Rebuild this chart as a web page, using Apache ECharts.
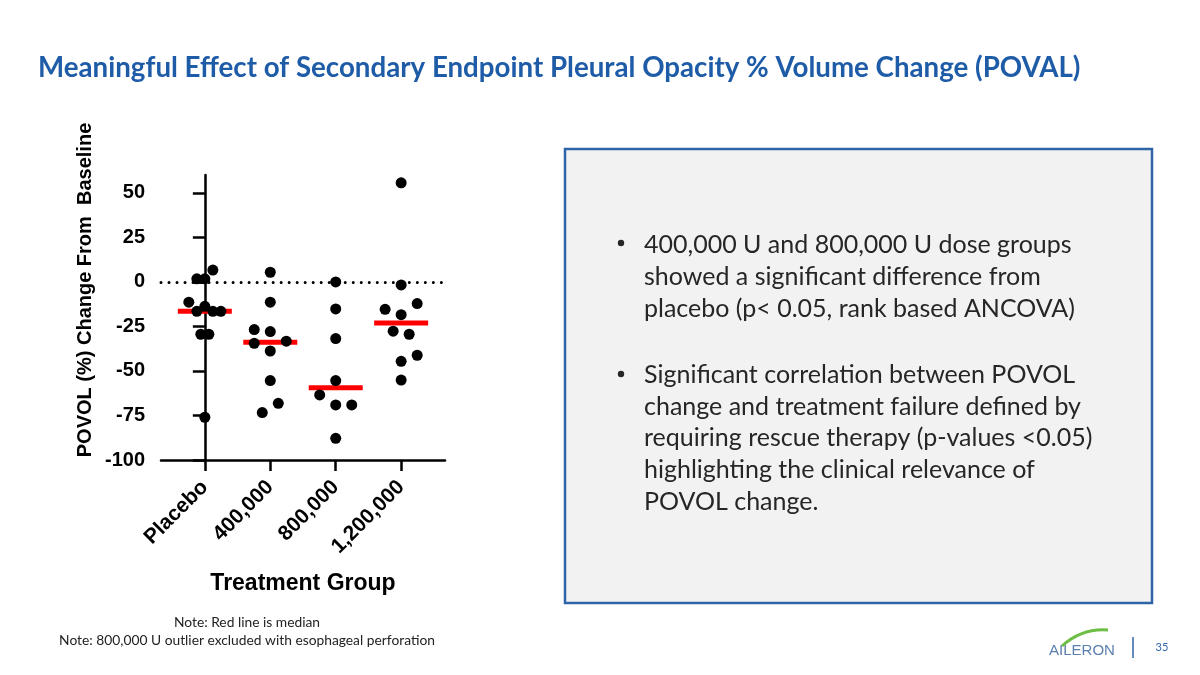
<!DOCTYPE html>
<html>
<head>
<meta charset="utf-8">
<script src="https://cdn.jsdelivr.net/npm/echarts@6/dist/echarts.min.js"></script>
<style>
html,body{margin:0;padding:0;background:#ffffff;}
#chart{width:1200px;height:675px;}
</style>
</head>
<body>
<div id="chart"></div>
<script>
// ---- data ----
const categories = ['Placebo', '400,000', '800,000', '1,200,000'];
const yTicks = [-100, -75, -50, -25, 0, 25, 50];

const placeboValues = [6.6, 1.7, 1.7, -11.4, -16.5, -13.7, -16.5, -16.5, -29.4, -29.4, -76];
const placeboSlots  = [1, -1, 0, -2, -1, 0, 1, 2, -0.5, 0.5, 0];

const dose400Values = [5.4, -11.4, -26.8, -27.9, -34.5, -33.3, -38.8, -55.4, -68.2, -73.4];
const dose400Slots  = [0, 0, -2, 0, -2, 2, 0, 0, 1, -1];

const dose800Values = [0, -15.2, -31.8, -55.4, -63.5, -69.1, -69.1, -87.8];
const dose800Slots  = [0, 0, 0, 0, -2, 0, 2, 0];

const dose1200Values = [55.6, -1.7, -15.4, -12.2, -18.4, -27.7, -29.4, -44.6, -41.2, -55.1];
const dose1200Slots  = [0, 0, -2, 2, 0, -1, 1, 0, 2, 0];

const groupValues = [placeboValues, dose400Values, dose800Values, dose1200Values];
const groupSlots = [placeboSlots, dose400Slots, dose800Slots, dose1200Slots];

// ---- build ----
const SLOT = 0.1225; // horizontal swarm spacing, in category units
const dots = [];
groupValues.forEach((vals, gi) => {
  vals.forEach((v, i) => dots.push([gi + groupSlots[gi][i] * SLOT, v]));
});
function median(arr) {
  const s = arr.slice().sort((a, b) => a - b);
  const m = Math.floor(s.length / 2);
  return s.length % 2 ? s[m] : (s[m - 1] + s[m]) / 2;
}
const medians = groupValues.map((vals, gi) => [gi, median(vals)]);

const chart = echarts.init(document.getElementById('chart'), null, {renderer: 'canvas'});
const bold = 'bold';
const axisFont = 'Liberation Sans';

chart.setOption({
  backgroundColor: '#ffffff',
  animation: false,
  grid: {left: 161, top: 175, width: 284, height: 285, containLabel: false},
  xAxis: {
    type: 'value', min: -0.67, max: 3.67,
    splitLine: {show: false},
    axisLine: {show: true, onZero: false, lineStyle: {color: '#000', width: 2.5}},
    axisTick: {show: true, customValues: [0, 1, 2, 3], length: 11, lineStyle: {color: '#000', width: 2.5}},
    axisLabel: {
      customValues: [0, 1, 2, 3], rotate: 45, margin: 24,
      formatter: v => categories[Math.round(v)],
      color: '#000', fontFamily: axisFont, fontWeight: bold, fontSize: 21
    },
    name: 'Treatment Group', nameLocation: 'middle', nameGap: 112,
    nameTextStyle: {color: '#000', fontFamily: axisFont, fontWeight: bold, fontSize: 23}
  },
  yAxis: {
    type: 'value', min: -100, max: 60,
    splitLine: {show: false},
    axisLine: {show: true, lineStyle: {color: '#000', width: 2.5}},
    axisTick: {show: true, customValues: yTicks, length: 12, lineStyle: {color: '#000', width: 2.5}},
    axisLabel: {
      customValues: yTicks, margin: 16,
      color: '#000', fontFamily: axisFont, fontWeight: bold, fontSize: 20
    }
  },
  series: [
    {
      type: 'scatter', name: 'median', data: medians,
      symbol: 'rect', symbolSize: [54, 5],
      itemStyle: {color: '#ff0000', opacity: 1}, z: 2, silent: true
    },
    {
      type: 'scatter', name: 'values', data: dots,
      symbol: 'circle', symbolSize: 11,
      itemStyle: {color: '#000000', opacity: 1}, z: 3, silent: true,
      markLine: {
        silent: true, symbol: 'none', label: {show: false},
        lineStyle: {color: '#000', width: 3, type: [0.01, 8], cap: 'round', opacity: 1},
        data: [{yAxis: 0}]
      }
    }
  ],
  graphic: [
    {type: 'text', x: 38, y: 68, style: {
      text: 'Meaningful Effect of Secondary Endpoint Pleural Opacity % Volume Change (POVAL)',
      fill: '#1F5CA8', font: 'bold 27.7px Lato', verticalAlign: 'middle'}},
    {type: 'text', x: 85, y: 290, rotation: Math.PI / 2, style: {
      text: 'POVOL (%) Change From  Baseline', fill: '#000',
      font: 'bold 20px "Liberation Sans"', align: 'center', verticalAlign: 'middle'}},
    {type: 'rect', z: -1, shape: {x: 565, y: 149, width: 587, height: 454},
      style: {fill: '#F2F2F2', stroke: '#2F64A8', lineWidth: 2.5}},
    {type: 'circle', shape: {cx: 621, cy: 243, r: 3.2}, style: {fill: '#262626'}},
    {type: 'circle', shape: {cx: 621, cy: 374, r: 3.2}, style: {fill: '#262626'}},
    {type: 'text', x: 644, y: 229, style: {
      text: '400,000 U and 800,000 U dose groups\nshowed a significant difference from\nplacebo (p< 0.05, rank based ANCOVA)',
      fill: '#262626', font: '25px Lato', lineHeight: 32}},
    {type: 'text', x: 644, y: 359, style: {
      text: 'Significant correlation between POVOL\nchange and treatment failure defined by\nrequiring rescue therapy (p-values <0.05)\nhighlighting the clinical relevance of\nPOVOL change.',
      fill: '#262626', font: '25px Lato', lineHeight: 31.7}},
    {type: 'text', x: 247, y: 623, style: {text: 'Note: Red line is median', fill: '#222', font: '13.8px Lato', align: 'center', verticalAlign: 'middle'}},
    {type: 'text', x: 247, y: 641, style: {text: 'Note: 800,000 U outlier excluded with esophageal perforation', fill: '#222', font: '13.8px Lato', align: 'center', verticalAlign: 'middle'}},
    {type: 'text', x: 1082, y: 651, style: {text: 'AILERON', fill: '#5B7FAE', font: '15px "Liberation Sans Narrow", "Liberation Sans"', align: 'center', verticalAlign: 'middle'}},
    {type: 'bezierCurve', shape: {x1: 1062, y1: 646, cpx1: 1082, cpy1: 628, x2: 1108, y2: 630}, style: {stroke: '#6DBE45', lineWidth: 3, fill: null}},
    {type: 'line', shape: {x1: 1133, y1: 637, x2: 1133, y2: 658}, style: {stroke: '#2F64A8', lineWidth: 1.5}},
    {type: 'text', x: 1162, y: 647, style: {text: '35', fill: '#2F64A8', font: '11px Lato', align: 'center', verticalAlign: 'middle'}}
  ]
});
</script>
</body>
</html>
